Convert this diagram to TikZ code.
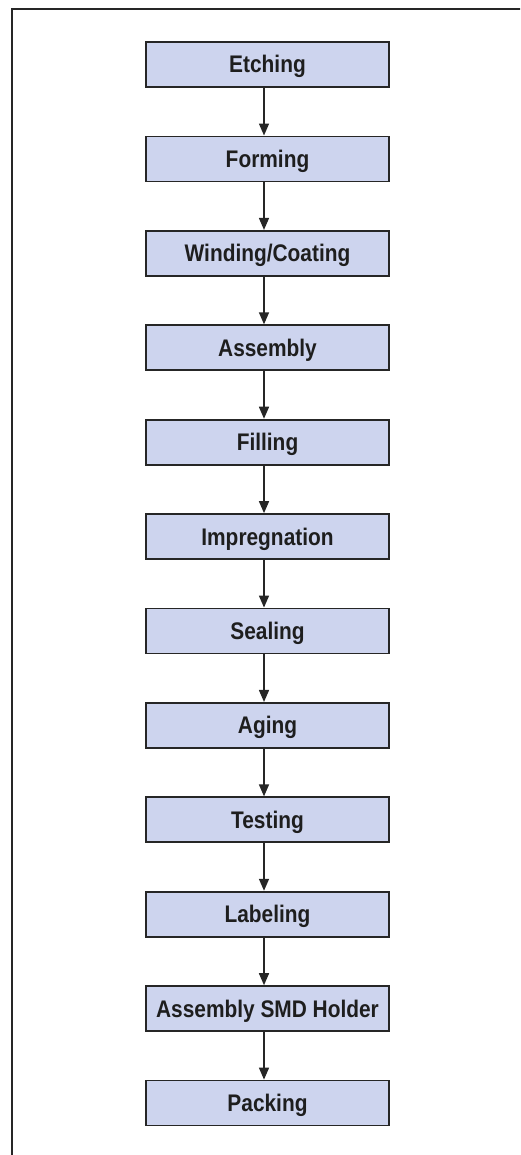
\documentclass[tikz,border=0pt]{standalone}
\usepackage{fontspec}
\setmainfont[FakeStretch=0.87]{Liberation Sans}
\usetikzlibrary{arrows.meta}
\definecolor{boxfill}{RGB}{205,212,238}
\definecolor{boxline}{RGB}{38,38,38}
\definecolor{txt}{RGB}{30,30,30}
\tikzset{
  stepbox/.style={draw=boxline, line width=1.8pt, fill=boxfill, minimum width=243pt,
    minimum height=45pt, inner sep=0pt, text height=17pt, text depth=0pt,
    font=\fontsize{24}{25}\bfseries\selectfont, text=txt},
  flow/.style={draw=boxline, line width=1.5pt, -{Triangle[width=10pt,length=12pt]}}
}
\begin{document}
\begin{tikzpicture}[x=1pt,y=-1pt]
\useasboundingbox (0,0) rectangle (520,1155);
\clip (0,0) rectangle (520,1155);
\draw[boxline, line width=2pt] (11.5,1170) -- (11.5,9.5) -- (530,9.5);
\foreach \n/\t [count=\i from 0] in {a/Etching,b/Forming,c/Winding\slash Coating,d/Assembly,e/Filling,f/Impregnation,g/Sealing,h/Aging,k/Testing,l/Labeling,m/Assembly SMD Holder,p/Packing}{
  \node[stepbox] (\n) at (267.5, 64.5+94.41*\i) {\t};
}
\foreach \u/\v in {a/b,b/c,c/d,d/e,e/f,f/g,g/h,h/k,k/l,l/m,m/p}{
  \draw[flow] ([xshift=-3.5pt]\u.south) -- ([xshift=-3.5pt]\v.north);
}
\end{tikzpicture}
\end{document}
